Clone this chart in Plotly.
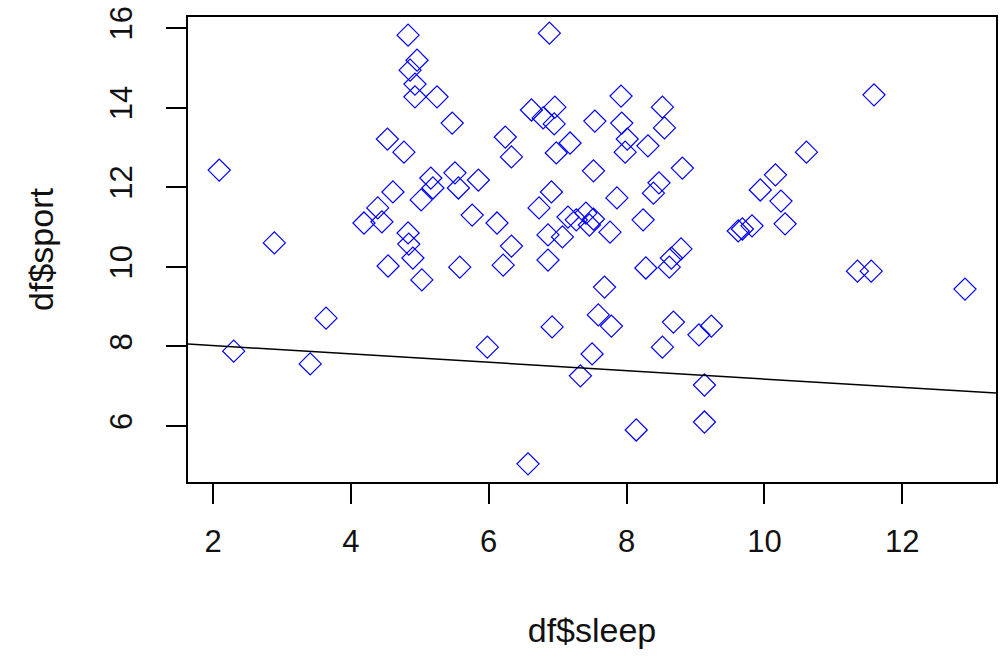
import plotly.graph_objects as go

# Data
sleep = [2.09, 2.30, 2.89, 3.41, 3.64, 4.19, 4.39, 4.45, 4.53, 4.54,
         4.61, 4.77, 4.83, 4.83, 4.84, 4.86, 4.90, 4.93, 4.96, 4.93,
         5.02, 5.03, 5.19, 5.16, 5.25, 5.47, 5.51, 5.56, 5.58, 5.76,
         5.85, 5.98, 6.12, 6.24, 6.21, 6.33, 6.33, 6.57, 6.62, 6.73,
         6.79, 6.86, 6.86, 6.88, 6.92, 6.91, 6.96, 6.95, 6.98, 7.07,
         7.18, 7.15, 7.27, 7.33, 7.41, 7.46, 7.52, 7.50, 7.52, 7.54,
         7.59, 7.68, 7.76, 7.78, 7.86, 7.92, 7.93, 7.98, 8.01, 8.14,
         8.24, 8.28, 8.31, 8.39, 8.47, 8.52, 8.52, 8.55, 8.62, 8.65,
         8.68, 8.79, 8.81, 9.05, 9.13, 9.13, 9.23, 9.62, 9.68, 9.82,
         9.94, 10.16, 10.24, 10.30, 10.61, 11.35, 11.55, 11.59, 12.91]
sport = [12.43, 7.88, 10.60, 7.56, 8.71, 11.10, 11.48, 11.13, 13.21, 10.02,
         11.88, 12.88, 15.82, 10.85, 10.57, 14.94, 10.22, 14.59, 15.19, 14.27,
         11.68, 9.67, 11.98, 12.23, 14.27, 13.61, 12.36, 11.98, 9.99, 11.30,
         12.18, 7.98, 11.10, 13.26, 10.04, 12.76, 10.52, 5.05, 13.94, 11.48,
         13.74, 10.80, 10.17, 15.87, 8.49, 11.88, 14.01, 13.59, 12.86, 10.75,
         13.11, 11.25, 11.18, 7.26, 11.35, 11.05, 11.20, 7.81, 12.41, 13.66,
         8.79, 9.49, 10.87, 8.51, 11.73, 14.29, 13.61, 12.88, 13.21, 5.90,
         11.18, 9.97, 13.04, 11.85, 12.11, 14.01, 7.98, 13.49, 9.99, 10.22,
         8.61, 10.45, 12.48, 8.29, 7.03, 6.10, 8.51, 10.90, 10.95, 11.03,
         11.93, 12.31, 11.65, 11.08, 12.88, 9.89, 9.89, 14.32, 9.44]

# Straight line drawn across the plot (abline)
line_intercept = 8.23
line_slope = -0.105

x_ticks = [2, 4, 6, 8, 10, 12]
y_ticks = [6, 8, 10, 12, 14, 16]

x_range = [1.637, 13.36]
y_range = [4.593, 16.276]

font_family = "Liberation Sans, Arial, sans-serif"

fig = go.Figure()
fig.add_trace(go.Scatter(
    x=sleep, y=sport, mode="markers",
    marker=dict(symbol="diamond-open", size=17, color="#0000FF",
                line=dict(width=1.2, color="#0000FF")),
    showlegend=False,
))
fig.add_trace(go.Scatter(
    x=x_range,
    y=[line_intercept + line_slope * v for v in x_range],
    mode="lines", line=dict(color="black", width=1.5),
    showlegend=False,
))

axis_common = dict(
    showgrid=False, zeroline=False, showline=True, mirror=True,
    linecolor="black", linewidth=1.5, ticks="outside", ticklen=20,
    tickwidth=1.5, tickcolor="black", automargin=False,
    ticklabeloverflow="allow",
    tickfont=dict(family=font_family, size=31, color="#111111"),
)

fig.update_layout(
    width=1000, height=657,
    margin=dict(l=188, r=4, t=17, b=175),
    paper_bgcolor="white", plot_bgcolor="white",
    xaxis=dict(
        range=x_range, tickvals=x_ticks, ticktext=[str(v) for v in x_ticks],
        title=dict(text="df$sleep", font=dict(family=font_family, size=34, color="#111111"),
                   standoff=60),
        ticklabelstandoff=11,
        **axis_common,
    ),
    yaxis=dict(
        range=y_range, tickvals=y_ticks, ticktext=[str(v) for v in y_ticks],
        tickangle=-90,
        title=dict(text="df$sport", font=dict(family=font_family, size=34, color="#111111"),
                   standoff=40),
        ticklabelstandoff=22,
        **axis_common,
    ),
)

# remove the default page margin so the figure fills the window exactly
fig.write_html("out.html", config={"displayModeBar": False},
               post_script="document.body.style.margin='0';")
